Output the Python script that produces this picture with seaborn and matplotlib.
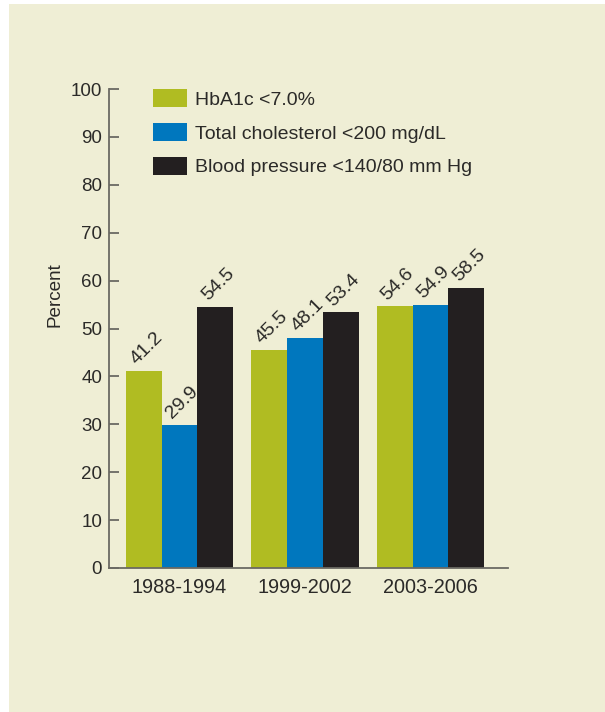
import matplotlib
matplotlib.use("Agg")
import matplotlib.pyplot as plt
from matplotlib.patches import Rectangle, Patch
import seaborn as sns
import pandas as pd

periods = ["1988-1994", "1999-2002", "2003-2006"]
measures = ["HbA1c <7.0%", "Total cholesterol <200 mg/dL", "Blood pressure <140/80 mm Hg"]
hba1c = [41.2, 45.5, 54.6]
cholesterol = [29.9, 48.1, 54.9]
blood_pressure = [54.5, 53.4, 58.5]
yticks = [0, 10, 20, 30, 40, 50, 60, 70, 80, 90, 100]
colors = ["#b0bc22", "#0077be", "#231f20"]

rows = []
for m, vals in zip(measures, [hba1c, cholesterol, blood_pressure]):
    for p, v in zip(periods, vals):
        rows.append({"Period": p, "Measure": m, "Percent": v})
df = pd.DataFrame(rows)

sns.set_style("white")
plt.rcParams["font.family"] = ["Liberation Sans", "DejaVu Sans"]

bg = "#efeed5"
txt = "#2b2a28"
spine = "#6b6a63"

fig = plt.figure(figsize=(6.05, 7.12), dpi=100, facecolor="white")
fig.patches.append(Rectangle((9 / 605, 0), 1, 1 - 4 / 712, transform=fig.transFigure,
                             facecolor=bg, edgecolor="none", zorder=-10))
ax = fig.add_axes([109 / 605, 1 - 568 / 712, 399 / 605, 479 / 712])
ax.set_facecolor("none")

sns.barplot(data=df, x="Period", y="Percent", hue="Measure", order=periods,
            hue_order=measures, palette=colors, width=0.856, saturation=1,
            edgecolor="none", linewidth=0, errorbar=None, ax=ax, legend=False)

ax.set_xlim(-0.562, 2.618)
ax.set_ylim(0, 100)
ax.set_yticks(yticks)
ax.set_xlabel("")
ax.set_ylabel("Percent", fontsize=13.6, color=txt)
ax.yaxis.set_label_coords(-0.113, 0.57)

for s in ["top", "right"]:
    ax.spines[s].set_visible(False)
for s in ["left", "bottom"]:
    ax.spines[s].set_color(spine)
    ax.spines[s].set_linewidth(1.3)

ax.tick_params(axis="y", direction="in", length=7.5, width=1.3, color=spine,
               labelsize=13.5, labelcolor=txt, pad=5, left=True)
ax.tick_params(axis="x", length=0, labelsize=14.3, labelcolor=txt, pad=7)

for cont in ax.containers:
    for bar in cont:
        h = bar.get_height()
        ax.annotate(f"{h:.1f}", xy=(bar.get_x() + bar.get_width() / 2, h),
                    xytext=(2, 2), textcoords="offset points", rotation=45,
                    rotation_mode="default", ha="center", va="bottom",
                    fontsize=14, color=txt)

handles = [Patch(facecolor=c, edgecolor="none") for c in colors]
fig.legend(handles, measures, loc="upper left",
           bbox_to_anchor=(153 / 605, 1 - 89 / 712), bbox_transform=fig.transFigure,
           frameon=False, fontsize=14, handlelength=1.75, handleheight=1.08,
           labelspacing=0.72, handletextpad=0.41, borderpad=0, borderaxespad=0,
           labelcolor=txt)

fig.savefig("out.png", dpi=100, facecolor="white")
